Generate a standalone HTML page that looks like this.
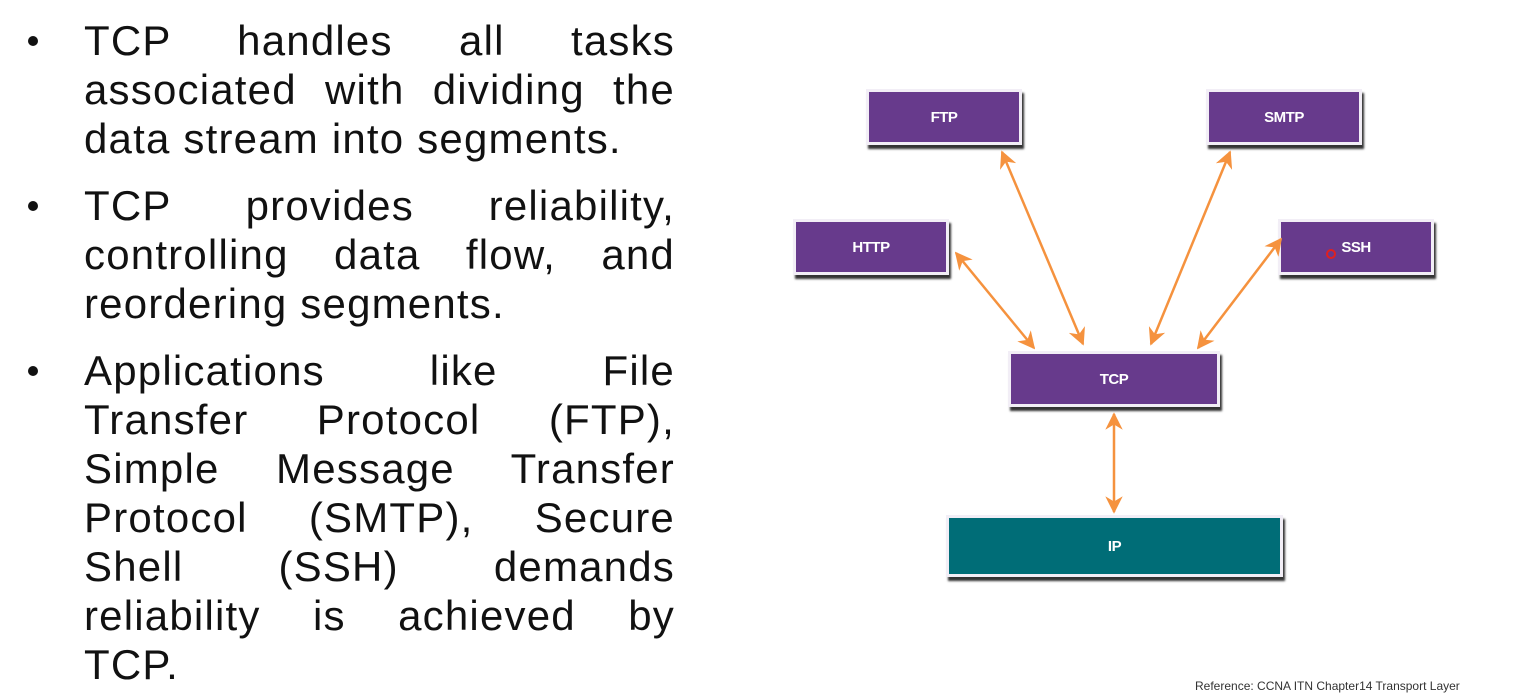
<!DOCTYPE html>
<html><head><style>
body{margin:0;width:1540px;height:697px;background:#fff;position:relative;overflow:hidden;font-family:"Liberation Sans",sans-serif}
.l{position:absolute;left:84px;width:591px;font-size:42px;letter-spacing:1.2px;line-height:49px;height:49px;color:#111;text-align:justify;text-align-last:justify;white-space:nowrap}
.l.e{text-align-last:left}
.b{position:absolute;left:28px;width:10px;height:10px;border-radius:50%;background:#111}
.box{position:absolute;background:#673a8c;border:3px solid #f2eef6;box-shadow:2px 4px 2px #333;color:#fff;font-size:15px;font-weight:bold;display:flex;align-items:center;justify-content:center;letter-spacing:-0.5px}
</style></head><body>
<div class="b" style="top:36px"></div>
<div class="l" style="top:16px">TCP handles all tasks</div>
<div class="l" style="top:65px">associated with dividing the</div>
<div class="l e" style="top:114px">data stream into segments.</div>
<div class="b" style="top:201px"></div>
<div class="l" style="top:181px">TCP provides reliability,</div>
<div class="l" style="top:230px">controlling data flow, and</div>
<div class="l e" style="top:279px">reordering segments.</div>
<div class="b" style="top:366px"></div>
<div class="l" style="top:346px">Applications like File</div>
<div class="l" style="top:395px">Transfer Protocol (FTP),</div>
<div class="l" style="top:444px">Simple Message Transfer</div>
<div class="l" style="top:493px">Protocol (SMTP), Secure</div>
<div class="l" style="top:542px">Shell (SSH) demands</div>
<div class="l" style="top:591px">reliability is achieved by</div>
<div class="l e" style="top:640px">TCP.</div>

<div class="box" style="left:866px;top:89px;width:150px;height:50px">FTP</div>
<div class="box" style="left:1206px;top:89px;width:150px;height:50px">SMTP</div>
<div class="box" style="left:793px;top:219px;width:150px;height:50px">HTTP</div>
<div class="box" style="left:1278px;top:219px;width:150px;height:50px">SSH</div>
<div class="box" style="left:1008px;top:351px;width:206px;height:50px">TCP</div>
<div class="box" style="left:946px;top:515px;width:331px;height:56px;background:#006d77">IP</div>
<div style="position:absolute;left:1326px;top:249px;width:6px;height:6px;border:2px solid #e02020;border-radius:50%"></div>

<svg width="1540" height="697" style="position:absolute;left:0;top:0" >
<defs><marker id="a" viewBox="0 0 10 10" refX="9" refY="5" markerWidth="7" markerHeight="7" orient="auto-start-reverse"><path d="M0,0 L10,5 L0,10 L3,5z" fill="#f5923e"/></marker></defs>
<g stroke="#f5923e" stroke-width="2.5" fill="none" marker-start="url(#a)" marker-end="url(#a)">
<line x1="1002" y1="152" x2="1083" y2="344"/>
<line x1="1230" y1="152" x2="1151" y2="344"/>
<line x1="956" y1="253" x2="1034" y2="348"/>
<line x1="1281" y1="239" x2="1198" y2="348"/>
<line x1="1114" y1="414" x2="1114" y2="512"/>
</g></svg>
<div style="position:absolute;left:1195px;top:679px;font-size:12px;color:#333">Reference: CCNA ITN Chapter14 Transport Layer</div>
</body></html>
